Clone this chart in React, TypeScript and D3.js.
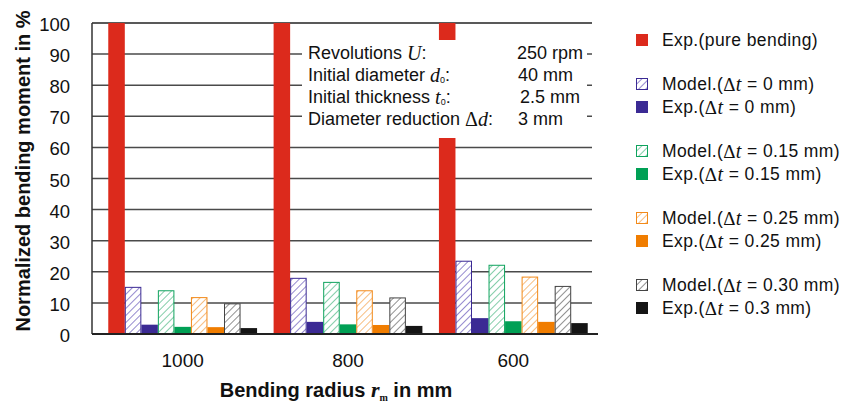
import * as d3 from "d3";
import React from "react";

// data
const categories = ["1000", "800", "600"];
const expPure = [100, 100, 100];
const model0 = [15.0, 17.9, 23.4];
const exp0 = [3.0, 3.9, 5.1];
const model015 = [13.9, 16.6, 22.1];
const exp015 = [2.3, 3.1, 4.1];
const model025 = [11.7, 13.9, 18.3];
const exp025 = [2.2, 2.9, 3.9];
const model030 = [9.7, 11.6, 15.3];
const exp030 = [1.9, 2.6, 3.5];

const yTicks = [0, 10, 20, 30, 40, 50, 60, 70, 80, 90, 100];

const seriesKeys = ["pure", "m0", "e0", "m015", "e015", "m025", "e025", "m030", "e030"];
const seriesValues = [expPure, model0, exp0, model015, exp015, model025, exp025, model030, exp030];
const seriesHatched = [false, true, false, true, false, true, false, true, false];
const seriesColors = ["#dc2a1c", "#3b2a94", "#3b2a94", "#0fa35e", "#00a055", "#f28a1a", "#f07d00", "#444444", "#151515"];
const hatchColors = ["", "#5b4bb5", "", "#3fb27a", "", "#f39a3a", "", "#555555", ""];

const legendValues = ["", "0 mm", "0 mm", "0.15 mm", "0.15 mm", "0.25 mm", "0.25 mm", "0.30 mm", "0.3 mm"];
const legendGroupOffsets = [0, 1, 1, 2, 2, 3, 3, 4, 4];

const infoLabels = ["Revolutions ", "Initial diameter ", "Initial thickness ", "Diameter reduction "];
const infoSymbols = ["U", "d", "t", "d"];
const infoSubs = ["", "0", "0", ""];
const infoValues = ["250 rpm", "40 mm", "2.5 mm", "3 mm"];
const infoValueX = [517, 518, 520, 518];

const W = 856;
const H = 406;
const sans = "'Liberation Sans', Arial, sans-serif";
const serif = "'Liberation Serif', 'Times New Roman', serif";

export default function App() {
  const y = d3.scaleLinear().domain([0, 100]).range([334, 23]);
  const x0 = d3.scaleBand().domain(categories).range([100, 596]).paddingInner(0.1).paddingOuter(0.05);
  const x1 = d3.scaleBand().domain(seriesKeys).range([0, x0.bandwidth()]);

  const axisLeft = 92;
  const axisRight = 598;
  const gridRight = 592;

  return (
    <svg width={W} height={H} style={{ position: "absolute", left: 0, top: 0, background: "#fff" }} fontFamily={sans}>
      <defs>
        {seriesKeys.map((k, i) =>
          seriesHatched[i] ? (
            <pattern key={k} id={"hatch-" + k} patternUnits="userSpaceOnUse" width={5} height={5} patternTransform="rotate(45)">
              <rect width={5} height={5} fill="#fff" />
              <line x1={0} y1={0} x2={0} y2={5} stroke={hatchColors[i]} strokeWidth={1.3} />
            </pattern>
          ) : null
        )}
      </defs>

      {/* gridlines */}
      {yTicks.filter((t) => t > 0).map((t) => (
        <line key={t} x1={axisLeft} x2={gridRight} y1={y(t)} y2={y(t)} stroke={t === 100 ? "#222" : "#4a4a4a"} strokeWidth={1.5} />
      ))}

      {/* bars */}
      {categories.map((c, ci) => (
        <g key={c} transform={`translate(${x0(c)},0)`}>
          {seriesKeys.map((k, si) => {
            const v = seriesValues[si][ci];
            const bx = x1(k) as number;
            const bw = x1.bandwidth();
            if (seriesHatched[si]) {
              return (
                <rect key={k} x={bx + 0.5} y={y(v)} width={bw - 1} height={y(0) - y(v)} fill={`url(#hatch-${k})`} stroke={seriesColors[si]} strokeWidth={1} />
              );
            }
            return <rect key={k} x={bx} y={y(v)} width={bw} height={y(0) - y(v)} fill={seriesColors[si]} />;
          })}
        </g>
      ))}

      {/* info box covering the chart */}
      <rect x={302} y={40} width={285} height={98} fill="#fff" />
      {infoLabels.map((l, i) => (
        <g key={l} fontSize={18} fill="#111">
          <text x={308} y={53 + i * 22} dominantBaseline="central">
            {l}
            {i === 3 ? <tspan fontFamily={serif} fontSize={20}>Δ</tspan> : null}
            <tspan fontFamily={serif} fontStyle="italic" fontSize={20}>
              {infoSymbols[i]}
            </tspan>
            {infoSubs[i] ? (
              <tspan fontSize={9} dy={5}>
                {infoSubs[i]}
              </tspan>
            ) : null}
            <tspan dy={infoSubs[i] ? -5 : 0}>:</tspan>
          </text>
          <text x={infoValueX[i]} y={53 + i * 22} dominantBaseline="central">
            {infoValues[i]}
          </text>
        </g>
      ))}

      {/* axes */}
      <line x1={axisLeft} x2={axisLeft} y1={y(100)} y2={y(0)} stroke="#333" strokeWidth={1.5} />
      <line x1={axisLeft} x2={axisRight} y1={y(0)} y2={y(0)} stroke="#222" strokeWidth={2} />

      {yTicks.map((t) => (
        <text key={t} x={70} y={y(t) + 1.5} textAnchor="end" dominantBaseline="central" fontSize={18.5} fill="#111">
          {t}
        </text>
      ))}
      {categories.map((c) => (
        <text key={c} x={(x0(c) as number) + x0.bandwidth() / 2} y={367} textAnchor="middle" fontSize={19} fill="#111">
          {c}
        </text>
      ))}

      <text transform="translate(30,171) rotate(-90)" textAnchor="middle" fontSize={20} fontWeight="bold" fill="#111">
        Normalized bending moment in %
      </text>
      <text x={336} y={397} textAnchor="middle" fontSize={20} fontWeight="bold" fill="#111">
        Bending radius{" "}
        <tspan fontFamily={serif} fontStyle="italic" fontSize={22}>
          r
        </tspan>
        <tspan fontFamily={serif} fontSize={10} dy={4}>
          m
        </tspan>
        <tspan dy={-4}> in mm</tspan>
      </text>

      {/* legend */}
      {seriesKeys.map((k, i) => {
        const ly = 40 + legendGroupOffsets[i] * 67 + (i > 0 && i % 2 === 0 ? 23 : 0) - (i > 0 ? 23 : 0);
        const hatched = seriesHatched[i];
        return (
          <g key={k} transform={`translate(636,${ly})`}>
            {hatched ? (
              <rect x={0.5} y={-5.5} width={11} height={11} fill={`url(#hatch-${k})`} stroke={seriesColors[i]} strokeWidth={1} />
            ) : (
              <rect x={0} y={-6} width={12} height={12} fill={seriesColors[i]} />
            )}
            <text x={26} y={0} dominantBaseline="central" fontSize={17.5} letterSpacing={0.4} fill="#111">
              {i === 0 ? (
                "Exp.(pure bending)"
              ) : (
                <>
                  {hatched ? "Model.(" : "Exp.("}
                  <tspan fontFamily={serif} fontSize={19}>Δ</tspan>
                  <tspan fontFamily={serif} fontStyle="italic" fontSize={20}>
                    t
                  </tspan>
                  {" = " + legendValues[i] + ")"}
                </>
              )}
            </text>
          </g>
        );
      })}
    </svg>
  );
}
